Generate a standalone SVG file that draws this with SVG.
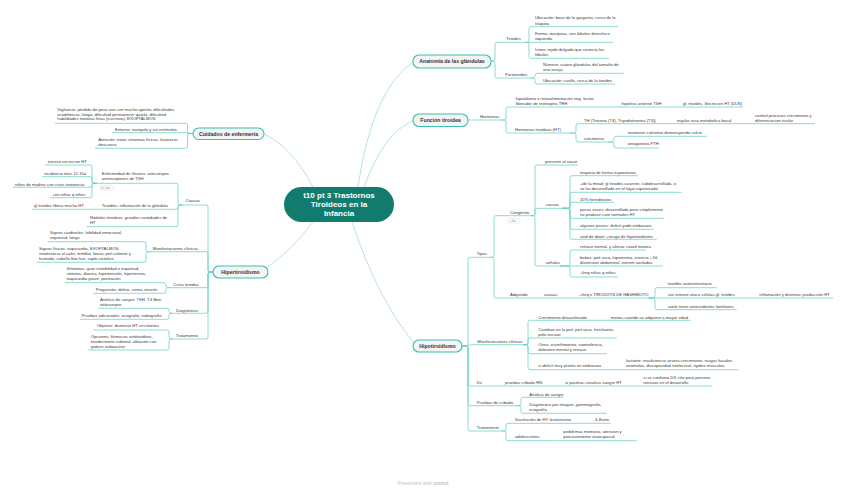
<svg xmlns="http://www.w3.org/2000/svg" width="848" height="491" viewBox="0 0 848 491">
<style>
text{font-family:"Liberation Sans",Arial,sans-serif;}
.t{font-size:4.2px;fill:#3a3a3a;}
.u{stroke:#67cfc3;stroke-width:0.75;fill:none;}
.c{stroke:#67cfc3;stroke-width:0.75;fill:none;}
.m{stroke:#a3ddd6;stroke-width:0.8;fill:none;}
.tp rect{fill:#f4f4f4;stroke:#3cbfb0;stroke-width:1.1;}
.tp text{font-size:5.2px;font-weight:bold;fill:#333;text-anchor:middle;}
.lb rect{fill:#fff;stroke:#cfcfcf;stroke-width:0.4;}
.lb text{font-size:2.8px;fill:#888;}
</style>
<rect width="848" height="491" fill="#fff"/>

<g id="connectors">
<path class="m" d="M358 187 Q372 90 413 62"/>
<path class="m" d="M364 187 Q384 132 413 121"/>
<path class="m" d="M313 187 Q292 147 264 134"/>
<path class="m" d="M313 222 Q290 252 266 268"/>
<path class="m" d="M352 222 Q378 300 414 343"/>

<path class="c" d="M491 61 H493 Q495 61 495 59 V44.3 Q495 42.3 497 42.3 H503"/>
<path class="c" d="M491 61 H493 Q495 61 495 63 V76 Q495 78 497 78 H503"/>
<path class="c" d="M526 42.3 H527 Q529 42.3 529 40.3 V28.7 Q529 26.7 531 26.7 H533"/>
<path class="c" d="M526 42.3 H533"/>
<path class="c" d="M526 42.3 H527 Q529 42.3 529 44.3 V56.3 Q529 58.3 531 58.3 H533"/>
<path class="c" d="M531 78 H533 Q535 78 535 76 V75.3 Q535 73.3 537 73.3 H540"/>
<path class="c" d="M531 78 H533 Q535 78 535 80 V82 Q535 84 537 84 H540"/>

<path class="c" d="M468 120 H476"/>
<path class="c" d="M502 120 H504 Q506 120 506 118 V109 Q506 107 508 107 H511"/>
<path class="c" d="M502 120 H504 Q506 120 506 122 V131 Q506 133 508 133 H511"/>
<path class="c" d="M613 107 H618 M668 107 H680"/>
<path class="c" d="M570 133 H574 Q576 133 576 131 V125.7 Q576 123.7 578 123.7 H581"/>
<path class="c" d="M570 133 H574 Q576 133 576 135 V140 Q576 142 578 142 H581"/>
<path class="c" d="M655 123.7 H673 M733 123.7 H752"/>
<path class="c" d="M608 142 H612 Q614 142 614 140 V138.3 Q614 136.3 616 136.3 H623"/>
<path class="c" d="M608 142 H612 Q614 142 614 144 V146 Q614 148 616 148 H623"/>

<path class="c" d="M462 346 H466 Q468 346 468 344 V259.3 Q468 257.3 470 257.3 H473"/>
<path class="c" d="M462 346 L473 344.7"/>
<path class="c" d="M462 346 H466 Q468 346 468 348 V384 Q468 386 470 386 H473"/>
<path class="c" d="M462 346 H466 Q468 346 468 348 V403.7 Q468 405.7 470 405.7 H473"/>
<path class="c" d="M462 346 H466 Q468 346 468 348 V429 Q468 431 470 431 H473"/>

<path class="c" d="M490 257.3 H492 Q494 257.3 494 255.3 V217.7 Q494 215.7 496 215.7 H507"/>
<path class="c" d="M490 257.3 H492 Q494 257.3 494 259.3 V296 Q494 298 496 298 H507"/>
<path class="c" d="M531 215.7 H533 Q535 215.7 535 213.7 V167 Q535 165 537 165 H540"/>
<path class="c" d="M531 215.7 H533 Q535 215.7 535 213.7 V210.3 Q535 208.3 537 208.3 H540"/>
<path class="c" d="M531 215.7 H533 Q535 215.7 535 217.7 V264 Q535 266 537 266 H540"/>

<path class="c" d="M562 208.3 H568 Q570 208.3 570 206.3 V177.7 Q570 175.7 572 175.7 H577"/>
<path class="c" d="M562 208.3 H568 Q570 208.3 570 206.3 V194.3 Q570 192.3 572 192.3 H577"/>
<path class="c" d="M562 208.3 H568 Q570 208.3 570 206.3 V204.3 Q570 202.3 572 202.3 H577"/>
<path class="c" d="M562 208.3 H568 Q570 208.3 570 210.3 V216.3 Q570 218.3 572 218.3 H577"/>
<path class="c" d="M562 208.3 H568 Q570 208.3 570 210.3 V227.3 Q570 229.3 572 229.3 H577"/>
<path class="c" d="M562 208.3 H568 Q570 208.3 570 210.3 V237.3 Q570 239.3 572 239.3 H577"/>

<path class="c" d="M560 266 H568 Q570 266 570 264 V252 Q570 250 572 250 H577"/>
<path class="c" d="M560 266 H577"/>
<path class="c" d="M560 266 H568 Q570 266 570 268 V275 Q570 277 572 277 H577"/>

<path class="c" d="M538 298 H542 M573 298 H577"/>
<path class="c" d="M648 298 H653 Q655 298 655 296 V289.7 Q655 287.7 657 287.7 H665"/>
<path class="c" d="M648 298 H665"/>
<path class="c" d="M648 298 H653 Q655 298 655 300 V307.7 Q655 309.7 657 309.7 H665"/>
<path class="c" d="M753 298 H757"/>

<path class="c" d="M523 344.7 H526 Q528 344.7 528 342.7 V322.3 Q528 320.3 530 320.3 H535"/>
<path class="c" d="M523 344.7 H526 Q528 344.7 528 342.7 V340 Q528 338 530 338 H535"/>
<path class="c" d="M523 344.7 H526 Q528 344.7 528 346.7 V351.7 Q528 353.7 530 353.7 H535"/>
<path class="c" d="M523 344.7 H526 Q528 344.7 528 346.7 V367.7 Q528 369.7 530 369.7 H535"/>
<path class="c" d="M600 320.3 H608 M620 369.7 H623"/>

<path class="c" d="M498.3 386 H502 M556.7 386 H562 M636.7 386 H641"/>
<path class="c" d="M516.7 405.7 H519 Q521 405.7 521 403.7 V399.3 Q521 397.3 523 397.3 H526"/>
<path class="c" d="M516.7 405.7 H519 Q521 405.7 521 407.7 V411.3 Q521 413.3 523 413.3 H526"/>
<path class="c" d="M501.7 431 H504 Q506 431 506 429 V425.3 Q506 423.3 508 423.3 H512"/>
<path class="c" d="M501.7 431 H504 Q506 431 506 433 V438.7 Q506 440.7 508 440.7 H512"/>
<path class="c" d="M590 423.3 H593 M556.7 440.7 H561"/>

<path class="c" d="M193 133.5 H189.5 Q187.5 133.5 187.5 131.5 V125.3 Q187.5 123.3 185.5 123.3 H183"/>
<path class="c" d="M193 133.5 L183 132.7"/>
<path class="c" d="M193 133.5 H189.5 Q187.5 133.5 187.5 135.5 V146.3 Q187.5 148.3 185.5 148.3 H183"/>

<path class="c" d="M213 272 H210 Q208 272 208 270 V207 Q208 205 206 205 H203"/>
<path class="c" d="M213 272 H210 Q208 272 208 270 V253.7 Q208 251.7 206 251.7 H203"/>
<path class="c" d="M213 272 H210 Q208 272 208 274 V285.7 Q208 287.7 206 287.7 H203"/>
<path class="c" d="M213 272 H210 Q208 272 208 274 V311.3 Q208 313.3 206 313.3 H203"/>
<path class="c" d="M213 272 H210 Q208 272 208 274 V337 Q208 339 206 339 H203"/>

<path class="c" d="M182 205 H180 Q178 205 178 203 V185.3 Q178 183.3 176 183.3 H173"/>
<path class="c" d="M182 205 H180 Q178 205 178 207 V207.3 Q178 209.3 176 209.3 H173"/>
<path class="c" d="M182 205 H180 Q178 205 178 207 V224.7 Q178 226.7 176 226.7 H173"/>
<path class="c" d="M96.7 209.3 H85"/>
<path class="c" d="M96.7 183.3 H94 Q92 183.3 92 181.3 V167 Q92 165 90 165 H87"/>
<path class="c" d="M96.7 183.3 H94 Q92 183.3 92 181.3 V178.7 Q92 176.7 90 176.7 H87"/>
<path class="c" d="M96.7 183.3 H94 Q92 183.3 92 185.3 V185.3 Q92 187.3 90 187.3 H87"/>
<path class="c" d="M96.7 183.3 H94 Q92 183.3 92 185.3 V195.7 Q92 197.7 90 197.7 H87"/>

<path class="c" d="M150 251.7 H148 Q146 251.7 146 249.7 V243.7 Q146 241.7 144 241.7 H142"/>
<path class="c" d="M150 251.7 H148 Q146 251.7 146 253.7 V260.3 Q146 262.3 144 262.3 H142"/>
<path class="c" d="M170 287.7 H168 Q166 287.7 166 285.7 V284.7 Q166 282.7 164 282.7 H162"/>
<path class="c" d="M170 287.7 H168 Q166 287.7 166 289.7 V291.3 Q166 293.3 164 293.3 H162"/>
<path class="c" d="M173 313.3 H171 Q169 313.3 169 311.3 V310.3 Q169 308.3 167 308.3 H164"/>
<path class="c" d="M173 313.3 H171 Q169 313.3 169 315.3 V317.3 Q169 319.3 167 319.3 H164"/>
<path class="c" d="M173 339 H171 Q169 339 169 337 V332 Q169 330 167 330 H164"/>
<path class="c" d="M173 339 H171 Q169 339 169 341 V348 Q169 350 167 350 H164"/>
</g>

<g id="central">
<rect x="284" y="187" width="110" height="35" rx="17.5" fill="#117c6e"/>
<text x="339" y="198" font-size="8" font-weight="bold" fill="#fff" text-anchor="middle">t10 pt 3 Trastornos</text>
<text x="339" y="207" font-size="8" font-weight="bold" fill="#fff" text-anchor="middle">Tiroideos en la</text>
<text x="339" y="216" font-size="8" font-weight="bold" fill="#fff" text-anchor="middle">Infancia</text>
</g>

<g id="anatomia" class="tp"><rect x="413" y="55" width="78" height="13" rx="6"/><text x="452" y="63.3">Anatomía de las glándulas</text></g>
<g id="funcion" class="tp"><rect x="413" y="114" width="55" height="12.5" rx="6"/><text x="440.5" y="122">Función tiroidea</text></g>
<g id="hipotiroidismo" class="tp"><rect x="413" y="340" width="49" height="12" rx="6"/><text x="437.5" y="347.8">Hipotiroidismo</text></g>
<g id="hipertiroidismo" class="tp"><rect x="213" y="266" width="55" height="12" rx="6"/><text x="240.5" y="273.8">Hipertiroidismo</text></g>
<g id="cuidados" class="tp"><rect x="193" y="128" width="71" height="11.5" rx="5.7"/><text x="228.5" y="135.6">Cuidados de enfermería</text></g>

<!-- Anatomía -->
<g id="tiroides"><text class="t" x="506" y="40">Tiroides</text><line class="u" x1="503" y1="42.3" x2="526" y2="42.3"/></g>
<g id="ubicacion1"><text class="t" x="535" y="18.8">Ubicación: base de la garganta, cerca de la<tspan x="535" dy="5.8">tráquea</tspan></text><line class="u" x1="533" y1="26.7" x2="618" y2="26.7"/></g>
<g id="forma"><text class="t" x="535" y="35">Forma: mariposa, con lóbulos derecho e<tspan x="535" dy="5.3">izquierdo</tspan></text><line class="u" x1="533" y1="42.3" x2="613" y2="42.3"/></g>
<g id="istmo"><text class="t" x="535" y="50.5">Istmo: tejido delgado que conecta los<tspan x="535" dy="5.3">lóbulos</tspan></text><line class="u" x1="533" y1="58.3" x2="609" y2="58.3"/></g>
<g id="paratiroides"><text class="t" x="505" y="76">Paratiroides</text><line class="u" x1="503" y1="78" x2="531" y2="78"/></g>
<g id="numero"><text class="t" x="543" y="65.5">Número: cuatro glándulas del tamaño de<tspan x="543" dy="5.3">una arveja</tspan></text><line class="u" x1="540" y1="73.3" x2="624" y2="73.3"/></g>
<g id="ubicacion2"><text class="t" x="543" y="82">Ubicación: cuello, cerca de la tiroides</text><line class="u" x1="540" y1="84" x2="615" y2="84"/></g>

<!-- Función -->
<g id="hormonas"><text class="t" x="480" y="117.8">Hormonas</text><line class="u" x1="476" y1="120" x2="502" y2="120"/></g>
<g id="hipotalamo"><text class="t" x="515.7" y="99.5">hipotálamo x retroalimentación neg. factor<tspan x="515.7" dy="5.3">liberador de tirotropina TRH</tspan></text><line class="u" x1="511" y1="107" x2="613" y2="107"/></g>
<g id="hipofisis"><text class="t" x="621.7" y="104.5">hipofisis anterior TSH</text><line class="u" x1="618" y1="107" x2="668" y2="107"/></g>
<g id="gltiroides"><text class="t" x="683" y="104.5">gl. tiroides. Secrecion HT (DLN)</text><line class="u" x1="680" y1="107" x2="743" y2="107"/></g>
<g id="hormonasht"><text class="t" x="515" y="131.2">Hormonas tiroideas (HT)</text><line class="u" x1="511" y1="133" x2="570" y2="133"/></g>
<g id="th"><text class="t" x="584" y="121.8">TH (Tiroxina (T4), Triyodotironina (T3))</text><line class="u" x1="581" y1="123.7" x2="655" y2="123.7"/></g>
<g id="regular"><text class="t" x="676.7" y="121.8">regular tasa metabolica basal</text><line class="u" x1="673" y1="123.7" x2="733" y2="123.7"/></g>
<g id="control"><text class="t" x="755" y="116.8">control procesos crecimiento y<tspan x="755" dy="5">diferenciacion tisular</tspan></text><line class="u" x1="752" y1="123.7" x2="815" y2="123.7"/></g>
<g id="calcitonina"><text class="t" x="584" y="139.5">calcitonina</text><line class="u" x1="581" y1="142" x2="608" y2="142"/></g>
<g id="mantener"><text class="t" x="627.7" y="133.5">mantener calcemia disminuyendo calcio</text><line class="u" x1="623" y1="136.3" x2="707" y2="136.3"/></g>
<g id="antagonista"><text class="t" x="627.7" y="145.2">antagonista PTH</text><line class="u" x1="623" y1="148" x2="659" y2="148"/></g>

<!-- Hipotiroidismo -->
<g id="tipos"><text class="t" x="476.7" y="254.8">Tipos</text><line class="u" x1="473" y1="257.3" x2="490" y2="257.3"/></g>
<g id="congenito"><text class="t" x="510" y="213.8">Congénito</text><line class="u" x1="507" y1="215.7" x2="531" y2="215.7"/>
<g class="lb"><rect x="508" y="218.4" width="12" height="4.6" rx="1.5"/><text x="510" y="221.6">+frec</text></g></g>
<g id="presente"><text class="t" x="545" y="163.2">presente al nacer</text><line class="u" x1="540" y1="165" x2="578" y2="165"/></g>
<g id="causas1"><text class="t" x="545.7" y="205.5">causas</text><line class="u" x1="540" y1="208.3" x2="562" y2="208.3"/></g>
<g id="mayoria"><text class="t" x="580" y="174.2">mayoría de forma espontanea</text><line class="u" x1="577" y1="175.7" x2="638" y2="175.7"/></g>
<g id="mitad"><text class="t" x="580" y="184.8">+de la mitad: gl tiroides ausente, subdesarrollada, o<tspan x="580" dy="5">se ha desarrollado en el lugar equivocado</tspan></text><line class="u" x1="577" y1="192.3" x2="681.7" y2="192.3"/></g>
<g id="hereditarios"><text class="t" x="580" y="200.5">20% hereditarios</text><line class="u" x1="577" y1="202.3" x2="614" y2="202.3"/></g>
<g id="pocas"><text class="t" x="580" y="210.8">pocas veces: desarrollada pero simplemente<tspan x="580" dy="5">no produce cant normales HT</tspan></text><line class="u" x1="577" y1="218.3" x2="664" y2="218.3"/></g>
<g id="algunos"><text class="t" x="580" y="227.2">algunos paises: deficit yodo embarazo</text><line class="u" x1="577" y1="229.3" x2="653.3" y2="229.3"/></g>
<g id="down"><text class="t" x="580" y="237.5">sind de down +riesgo de hipotiroidismo</text><line class="u" x1="577" y1="239.3" x2="656.7" y2="239.3"/></g>
<g id="senales"><text class="t" x="545.7" y="264.2">señales</text><line class="u" x1="540" y1="266" x2="560" y2="266"/></g>
<g id="retraso"><text class="t" x="580" y="248.2">retraso mental, y alterac coord motora</text><line class="u" x1="577" y1="250" x2="646" y2="250"/></g>
<g id="bebes"><text class="t" x="580" y="258.8">bebes: piel seca, hipotermia, ictericia +7d,<tspan x="580" dy="5">distension abdominal, extrem azuladas</tspan></text><line class="u" x1="577" y1="266" x2="662.7" y2="266"/></g>
<g id="freqninas"><text class="t" x="580" y="273.5">+freq niñas q niños</text><line class="u" x1="577" y1="277" x2="618" y2="277"/></g>
<g id="adquirido"><text class="t" x="510" y="296.2">Adquirido</text><line class="u" x1="507" y1="298" x2="538" y2="298"/></g>
<g id="causas2"><text class="t" x="544" y="296.2">causas</text><line class="u" x1="542" y1="298" x2="573" y2="298"/></g>
<g id="hashimoto"><text class="t" x="579.3" y="296.2">+freq x TIROIDITIS DE HASHIMOTO</text><line class="u" x1="577" y1="298" x2="648" y2="298"/></g>
<g id="autoinm"><text class="t" x="667.7" y="285.2">tiroiditis autoinmunitaria</text><line class="u" x1="665" y1="287.7" x2="716.7" y2="287.7"/></g>
<g id="sist"><text class="t" x="667.7" y="296.2">sist inmune ataca celulas gl. tiroides</text><line class="u" x1="665" y1="298" x2="753" y2="298"/></g>
<g id="inflamacion"><text class="t" x="759.3" y="296.2">inflamación y disminuc producción HT</text><line class="u" x1="757" y1="298" x2="833" y2="298"/></g>
<g id="antecedentes"><text class="t" x="667.7" y="307.8">suele tener antecedentes familiares</text><line class="u" x1="665" y1="309.7" x2="736.7" y2="309.7"/></g>

<g id="manif1"><text class="t" x="477.3" y="342.8">Manifestaciones clínicas</text><line class="u" x1="473" y1="344.7" x2="523" y2="344.7"/></g>
<g id="crecimiento"><text class="t" x="538.3" y="318.5">Crecimiento desacelerado</text><line class="u" x1="535" y1="320.3" x2="600" y2="320.3"/></g>
<g id="menos"><text class="t" x="610.7" y="318.5">menos cuando se adquiere a mayor edad</text><line class="u" x1="608" y1="320.3" x2="690.7" y2="320.3"/></g>
<g id="piel"><text class="t" x="538.3" y="330.5">Cambios en la piel: piel seca, hinchazón,<tspan x="538.3" dy="5">pelo escaso</tspan></text><line class="u" x1="535" y1="338" x2="616.7" y2="338"/></g>
<g id="otros"><text class="t" x="538.3" y="346.2">Otros: estreñimiento, somnolencia,<tspan x="538.3" dy="5">deterioro mental y retraso</tspan></text><line class="u" x1="535" y1="353.7" x2="606.7" y2="353.7"/></g>
<g id="sideficit"><text class="t" x="538.3" y="366.8">si deficit muy pronto en embarazo</text><line class="u" x1="535" y1="369.7" x2="620" y2="369.7"/></g>
<g id="lactante"><text class="t" x="626" y="361.8">lactante: insuficiencia severa crecimiento, rasgos faciales<tspan x="626" dy="5">anomalos, discapacidad intelectual, rigidez musculos</tspan></text><line class="u" x1="623" y1="369.7" x2="738.3" y2="369.7"/></g>

<g id="dx"><text class="t" x="476.7" y="384.2">Dx</text><line class="u" x1="473" y1="386" x2="498.3" y2="386"/></g>
<g id="cribadorn"><text class="t" x="505" y="384.2">pruebas cribado RN</text><line class="u" x1="502" y1="386" x2="556.7" y2="386"/></g>
<g id="sipositivo"><text class="t" x="565" y="384.2">si positivo-&gt;analisis sangre HT</text><line class="u" x1="562" y1="386" x2="636.7" y2="386"/></g>
<g id="confirma"><text class="t" x="643.3" y="378.8">si se confirma DX-&gt;tto para prevenir<tspan x="643.3" dy="5">retrasos en el desarrollo</tspan></text><line class="u" x1="641" y1="386" x2="712" y2="386"/></g>
<g id="pruebas"><text class="t" x="476.7" y="403.8">Pruebas de cribado</text><line class="u" x1="473" y1="405.7" x2="516.7" y2="405.7"/></g>
<g id="analisis1"><text class="t" x="529.3" y="395.5">Análisis de sangre</text><line class="u" x1="526" y1="397.3" x2="563.3" y2="397.3"/></g>
<g id="imagen"><text class="t" x="529.3" y="405.8">Diagnóstico por imagen: gammagrafía,<tspan x="529.3" dy="5">ecografía</tspan></text><line class="u" x1="526" y1="413.3" x2="606.7" y2="413.3"/></g>
<g id="tratamiento1"><text class="t" x="476.7" y="429.2">Tratamiento</text><line class="u" x1="473" y1="431" x2="501.7" y2="431"/></g>
<g id="sustitucion"><text class="t" x="515" y="420.8">Sustitución de HT: levotiroxina</text><line class="u" x1="512" y1="423.3" x2="590" y2="423.3"/></g>
<g id="semanas"><text class="t" x="595" y="420.8">4-8sem</text><line class="u" x1="593" y1="423.3" x2="610.7" y2="423.3"/></g>
<g id="adolescentes"><text class="t" x="515" y="438.2">adolescentes</text><line class="u" x1="512" y1="440.7" x2="556.7" y2="440.7"/></g>
<g id="problemas"><text class="t" x="563.3" y="433.2">problemas memoria, atencion y<tspan x="563.3" dy="5">procesamiento visoespacial</tspan></text><line class="u" x1="561" y1="440.7" x2="636.7" y2="440.7"/></g>

<!-- Cuidados -->
<g id="vigilancia"><text class="t" x="57.3" y="110.8">Vigilancia: pérdida de peso aun con mucho apetito, dificultades<tspan x="57.3" dy="4.8">académicas, fatiga, dificultad permanecer quieto, dificultad</tspan><tspan x="57.3" dy="4.8">habilidades motoras finas (escritura), EXOFTALMOS</tspan></text><line class="u" x1="55" y1="123.3" x2="183" y2="123.3"/></g>
<g id="entorno"><text class="t" x="115" y="130.8">Entorno: tranquilo y sin estímulos</text><line class="u" x1="112" y1="132.7" x2="183" y2="132.7"/></g>
<g id="atencion"><text class="t" x="98.3" y="140.8">Atención: tratar síntomas físicos, favorecer<tspan x="98.3" dy="5">descanso</tspan></text><line class="u" x1="95" y1="148.3" x2="183" y2="148.3"/></g>

<!-- Hipertiroidismo -->
<g id="causas3"><text class="t" x="185.7" y="202.2">Causas</text><line class="u" x1="182" y1="205" x2="203" y2="205"/></g>
<g id="graves"><text class="t" x="101.7" y="174.8">Enfermedad de Graves: anticuerpos<tspan x="101.7" dy="5">antireceptores de TSH</tspan></text><line class="u" x1="96.7" y1="183.3" x2="173" y2="183.3"/>
<g class="lb"><rect x="99.5" y="185.4" width="14" height="4.6" rx="1.5"/><text x="101.3" y="188.6">la +frec</text></g></g>
<g id="exceso"><text class="t" x="47.7" y="163.2">exceso secrecion HT</text><line class="u" x1="45" y1="165" x2="87" y2="165"/></g>
<g id="incidencia"><text class="t" x="44.3" y="174.8">incidencia más 12-15a</text><line class="u" x1="42" y1="176.7" x2="87" y2="176.7"/></g>
<g id="madres"><text class="t" x="15" y="185.5">niños de madres con crisis tirotoxicas</text><line class="u" x1="13" y1="187.3" x2="87" y2="187.3"/></g>
<g id="enninas"><text class="t" x="52.3" y="195.8">+en niñas q niños</text><line class="u" x1="50" y1="197.7" x2="87" y2="197.7"/></g>
<g id="tiroiditis"><text class="t" x="101.7" y="207.2">Tiroiditis: inflamación de la glándula</text><line class="u" x1="96.7" y1="209.3" x2="173" y2="209.3"/></g>
<g id="libera"><text class="t" x="34" y="207.2">gl tiroides libera mucha HT</text><line class="u" x1="32" y1="209.3" x2="85" y2="209.3"/></g>
<g id="nodulos"><text class="t" x="90" y="218.8">Nódulos tiroideos: grandes cantidades de<tspan x="90" dy="5.3">HT</tspan></text><line class="u" x1="86.7" y1="226.7" x2="173" y2="226.7"/></g>

<g id="manif2"><text class="t" x="152.7" y="249.8">Manifestaciones clínicas</text><line class="u" x1="150" y1="251.7" x2="203" y2="251.7"/></g>
<g id="cardinales"><text class="t" x="50" y="234.2">Signos cardinales: labilidad emocional,<tspan x="50" dy="5">inquietud, fatiga</tspan></text><line class="u" x1="47.7" y1="241.7" x2="142" y2="241.7"/></g>
<g id="fisicos"><text class="t" x="39" y="249.8">Signos físicos: taquicardia, EXOFTALMOS,<tspan x="39" dy="5">intolerancia al calor, temblor, bocio, piel caliente y</tspan><tspan x="39" dy="5">humeda, cabello fino liso, soplo sistolico</tspan></text><line class="u" x1="36.7" y1="262.3" x2="142" y2="262.3"/></g>

<g id="crisis"><text class="t" x="173.3" y="285.8">Crisis tiroidea</text><line class="u" x1="170" y1="287.7" x2="203" y2="287.7"/></g>
<g id="sintomas"><text class="t" x="66.7" y="269.8">Síntomas: gran irritabilidad e inquietud,<tspan x="66.7" dy="5.3">vómitos, diarrea, hipertensión, hipertermia,</tspan><tspan x="66.7" dy="5.3">taquicardia grave, postración</tspan></text><line class="u" x1="65" y1="282.7" x2="162" y2="282.7"/></g>
<g id="progresion"><text class="t" x="95.7" y="290.8">Progresión: delirio, coma, muerte</text><line class="u" x1="93.3" y1="293.3" x2="162" y2="293.3"/></g>

<g id="diagnostico"><text class="t" x="176" y="311.5">Diagnóstico</text><line class="u" x1="173" y1="313.3" x2="203" y2="313.3"/></g>
<g id="analisis2"><text class="t" x="100" y="300.8">Análisis de sangre: TSH, T4 libre,<tspan x="100" dy="5">anticuerpos</tspan></text><line class="u" x1="98.3" y1="308.3" x2="164" y2="308.3"/></g>
<g id="adicionales"><text class="t" x="81.7" y="316.5">Pruebas adicionales: ecografía, radiografía</text><line class="u" x1="80" y1="319.3" x2="164" y2="319.3"/></g>

<g id="tratamiento2"><text class="t" x="175.7" y="336.5">Tratamiento</text><line class="u" x1="173" y1="339" x2="203" y2="339"/></g>
<g id="objetivo"><text class="t" x="96.7" y="327.2">Objetivo: disminuir HT circulantes</text><line class="u" x1="93.3" y1="330" x2="164" y2="330"/></g>
<g id="opciones"><text class="t" x="90.7" y="337.5">Opciones: fármacos antitiroideos,<tspan x="90.7" dy="5">tiroidectomía subtotal, ablación con</tspan><tspan x="90.7" dy="5">yoduro radioactivo</tspan></text><line class="u" x1="88.3" y1="350" x2="164" y2="350"/></g>

<text x="423" y="485" font-size="5.2" fill="#c4c4c4" text-anchor="middle">Presented with <tspan font-weight="bold">xmind</tspan></text>
</svg>
